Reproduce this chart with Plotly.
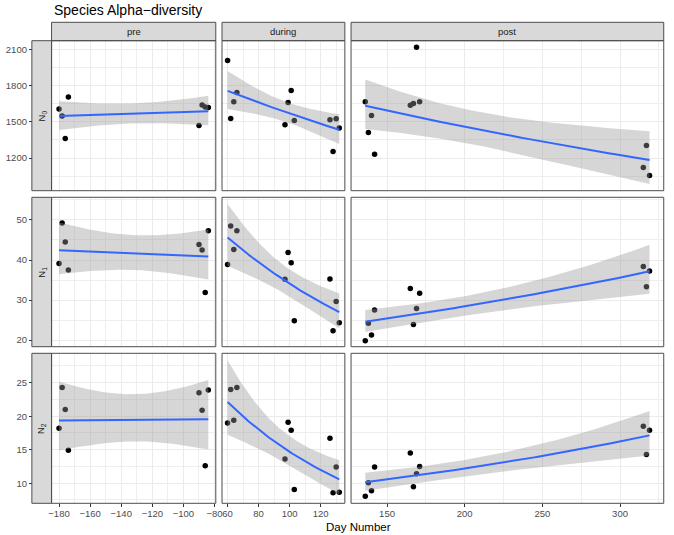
import numpy as np
import plotly.graph_objects as go

# ---------------- data ----------------
phases = ["pre", "during", "post"]
metrics = ["N<sub>0</sub>", "N<sub>1</sub>", "N<sub>2</sub>"]

days_pre = [-180, -178, -176, -174, -90, -88, -86, -84]
days_during = [60, 62, 64, 66, 97, 99, 101, 103, 126, 128, 130, 132]
days_post = [136, 138, 140, 142, 165, 167, 169, 171, 315, 317, 319]

N0_pre = [1605, 1547, 1362, 1705, 1469, 1638, 1622, 1618]
N0_during = [2008, 1527, 1666, 1743, 1475, 1660, 1759, 1511, 1517, 1254, 1525, 1448]
N0_post = [1666, 1411, 1552, 1232, 1636, 1652, 2116, 1666, 1121, 1304, 1055]

N1_pre = [39.1, 49.25, 44.5, 37.5, 43.9, 42.5, 31.9, 47.3]
N1_during = [38.9, 48.5, 42.6, 47.3, 35.2, 41.9, 39.3, 24.8, 35.25, 22.3, 29.6, 24.3]
N1_post = [19.8, 24.2, 21.25, 27.5, 32.9, 23.9, 27.9, 31.7, 38.4, 33.3, 37.25]

N2_pre = [18.2, 24.3, 21.0, 14.9, 23.5, 20.9, 12.6, 23.9]
N2_during = [19.0, 24.0, 19.4, 24.3, 13.6, 19.1, 17.9, 9.06, 16.7, 8.57, 12.4, 8.66]
N2_post = [8.06, 10.06, 8.87, 12.4, 14.5, 9.46, 11.4, 12.5, 18.5, 14.3, 17.9]

days = [days_pre, days_during, days_post]
values = [[N0_pre, N0_during, N0_post],
          [N1_pre, N1_during, N1_post],
          [N2_pre, N2_during, N2_post]]

# ---------------- layout geometry (pixels) ----------------
W, H = 674, 535
col_px = [(49.3, 216.0), (222.3, 347.0), (353.3, 670.7)]
row_px = [(40.7, 190.7), (197.3, 346.7), (353.3, 503.3)]
strip_top = 22.3
rstrip_left = 29.3
y_ranges = [[929.3, 2171.2], [18.33, 55.67], [7.0, 29.39]]
y_dticks = [300, 10, 5]
x_dticks = [20, 20, 50]

def px(x):
    return x / W

def py(y):
    return 1 - y / H


def loglin_fit(x, y, n=80):
    x = np.asarray(x, float)
    ly = np.log(np.asarray(y, float))
    X = np.column_stack([np.ones_like(x), x])
    beta, *_ = np.linalg.lstsq(X, ly, rcond=None)
    resid = ly - X @ beta
    s2 = resid @ resid / (len(x) - 2)
    cov = s2 * np.linalg.inv(X.T @ X)
    xg = np.linspace(x.min(), x.max(), n)
    G = np.column_stack([np.ones_like(xg), xg])
    eta = G @ beta
    se = np.sqrt(np.einsum("ij,jk,ik->i", G, cov, G))
    return xg, np.exp(eta), np.exp(eta - 1.96 * se), np.exp(eta + 1.96 * se)


fig = go.Figure()

for r in range(3):
    for c in range(3):
        xa = "x" if c == 0 else f"x{c+1}"
        ya = "y" if r == 0 else f"y{r+1}"
        xv, yv = days[c], values[r][c]
        fig.add_trace(go.Scatter(x=xv, y=yv, mode="markers", xaxis=xa, yaxis=ya,
                                 marker=dict(color="black", size=5.5), showlegend=False,
                                 hoverinfo="x+y"))
        xg, fit, lo, hi = loglin_fit(xv, yv)
        fig.add_trace(go.Scatter(x=np.concatenate([xg, xg[::-1]]),
                                 y=np.concatenate([hi, lo[::-1]]),
                                 fill="toself", fillcolor="rgba(153,153,153,0.4)",
                                 line=dict(width=0), mode="lines", xaxis=xa, yaxis=ya,
                                 showlegend=False, hoverinfo="skip"))
        fig.add_trace(go.Scatter(x=xg, y=fit, mode="lines", xaxis=xa, yaxis=ya,
                                 line=dict(color="#3366FF", width=2), showlegend=False))

font_fam = "Liberation Sans, Arial, sans-serif"
axis_common = dict(showgrid=True, gridcolor="#EBEBEB", gridwidth=1, zeroline=False,
                   showline=False, ticks="outside", ticklen=3, tickwidth=1,
                   tickcolor="#333333", tickfont=dict(size=9.5, color="#4D4D4D",
                                                      family=font_fam),
                   fixedrange=True)

layout = dict(width=W, height=H, margin=dict(l=0, r=0, t=0, b=0),
              paper_bgcolor="white", plot_bgcolor="white",
              font=dict(family=font_fam), showlegend=False)

for c in range(3):
    key = "xaxis" if c == 0 else f"xaxis{c+1}"
    xs = np.asarray(days[c], float)
    span = xs.max() - xs.min()
    layout[key] = dict(axis_common, domain=[px(col_px[c][0]), px(col_px[c][1])],
                       range=[xs.min() - 0.05 * span, xs.max() + 0.05 * span],
                       anchor="y3", tick0=0, dtick=x_dticks[c], ticklabelstandoff=-2,
                       minor=dict(showgrid=True, gridcolor="#EEEEEE", gridwidth=0.5,
                                  tick0=0, dtick=x_dticks[c] / 2))

for r in range(3):
    key = "yaxis" if r == 0 else f"yaxis{r+1}"
    layout[key] = dict(axis_common, domain=[py(row_px[r][1]), py(row_px[r][0])],
                       range=y_ranges[r], anchor="free", position=px(rstrip_left),
                       side="left", tick0=0, dtick=y_dticks[r],
                       minor=dict(showgrid=True, gridcolor="#EEEEEE", gridwidth=0.5,
                                  tick0=0, dtick=y_dticks[r] / 2))

shapes = []
annotations = []
border = dict(color="#4D4D4D", width=1)
# column strips
for c in range(3):
    x0, x1 = col_px[c]
    shapes.append(dict(type="rect", xref="paper", yref="paper", x0=px(x0), x1=px(x1),
                       y0=py(row_px[0][0]), y1=py(strip_top), fillcolor="#D9D9D9",
                       line=border, layer="above"))
    annotations.append(dict(xref="paper", yref="paper", x=px((x0 + x1) / 2),
                            y=py((strip_top + row_px[0][0]) / 2), text=phases[c],
                            showarrow=False, xanchor="center", yanchor="middle",
                            font=dict(size=9.5, color="#1A1A1A", family=font_fam)))
# row strips
for r in range(3):
    y0, y1 = row_px[r]
    shapes.append(dict(type="rect", xref="paper", yref="paper", x0=px(rstrip_left),
                       x1=px(col_px[0][0]), y0=py(y1), y1=py(y0), fillcolor="#D9D9D9",
                       line=border, layer="above"))
    annotations.append(dict(xref="paper", yref="paper", x=px((rstrip_left + col_px[0][0]) / 2),
                            y=py((y0 + y1) / 2), text=metrics[r], textangle=-90,
                            showarrow=False, xanchor="center", yanchor="middle",
                            font=dict(size=9.5, color="#1A1A1A", family=font_fam)))
# panel borders
for r in range(3):
    for c in range(3):
        shapes.append(dict(type="rect", xref="paper", yref="paper",
                           x0=px(col_px[c][0]), x1=px(col_px[c][1]),
                           y0=py(row_px[r][1]), y1=py(row_px[r][0]),
                           line=border, layer="above",
                           fillcolor="rgba(0,0,0,0)"))

annotations.append(dict(xref="paper", yref="paper", x=px(50), y=py(10),
                        text="Species Alpha\u2212diversity", showarrow=False,
                        xanchor="left", yanchor="middle",
                        font=dict(size=14, color="black", family=font_fam)))
annotations.append(dict(xref="paper", yref="paper", x=px(360.5), y=py(526.5),
                        text="Day Number", showarrow=False,
                        xanchor="center", yanchor="middle",
                        font=dict(size=11.5, color="black", family=font_fam)))

layout["shapes"] = shapes
layout["annotations"] = annotations
fig.update_layout(**layout)
fig.write_html("out.html", config={"displayModeBar": False},
               post_script="document.body.style.margin='0';document.body.style.overflow='hidden';")
